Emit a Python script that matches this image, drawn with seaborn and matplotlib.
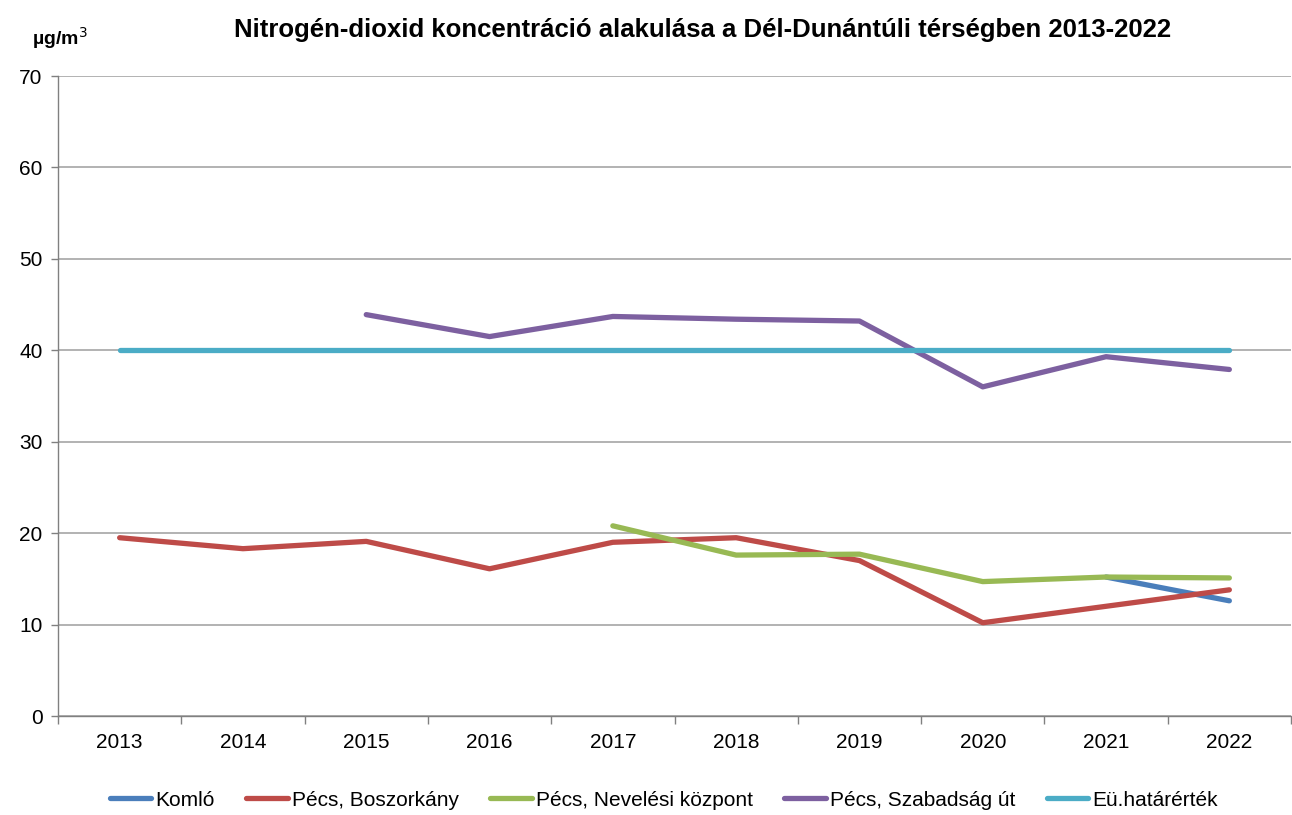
import numpy as np
import pandas as pd
import matplotlib
matplotlib.use('Agg')
import matplotlib.pyplot as plt
import seaborn as sns

# adatok
years = [2013, 2014, 2015, 2016, 2017, 2018, 2019, 2020, 2021, 2022]
komlo = [np.nan, np.nan, np.nan, np.nan, np.nan, np.nan, np.nan, np.nan, 15.2, 12.6]
boszorkany = [19.5, 18.3, 19.1, 16.1, 19.0, 19.5, 17.0, 10.2, 12.0, 13.8]
neveles = [np.nan, np.nan, np.nan, np.nan, 20.8, 17.6, 17.7, 14.7, 15.2, 15.1]
szabadsag = [np.nan, np.nan, 43.9, 41.5, 43.7, 43.4, 43.2, 36.0, 39.3, 37.9]
hatarertek = [40, 40, 40, 40, 40, 40, 40, 40, 40, 40]

series_names = ['Komló', 'Pécs, Boszorkány', 'Pécs, Nevelési központ', 'Pécs, Szabadság út', 'Eü.határérték']
series_values = [komlo, boszorkany, neveles, szabadsag, hatarertek]
colors = ['#4A7EBB', '#BE4B48', '#98B954', '#7D60A0', '#4BACC6']

rows = []
for name, vals in zip(series_names, series_values):
    for i, v in enumerate(vals):
        rows.append({'idx': i, 'ertek': v, 'sorozat': name})
df = pd.DataFrame(rows).dropna()

sns.set_theme(style='white')
plt.rcParams['font.family'] = ['Liberation Sans', 'DejaVu Sans']
plt.rcParams['text.color'] = 'black'

fig = plt.figure(figsize=(12.92, 8.15), dpi=100)
ax = fig.add_axes([58 / 1292, 1 - 716 / 815, (1291 - 58) / 1292, (716 - 76) / 815])

sns.lineplot(data=df, x='idx', y='ertek', hue='sorozat', hue_order=series_names,
             palette=colors, linewidth=3.8, ax=ax, legend=False, zorder=3)

ax.set_xlim(-0.5, 9.5)
ax.set_ylim(0, 70)
ax.set_yticks(range(0, 71, 10))
ax.set_xticks(range(len(years)))
ax.set_xticklabels([str(y) for y in years])
ax.set_xticks(np.arange(-0.5, 9.6, 1), minor=True)
ax.tick_params(axis='x', which='major', length=0, labelsize=15, pad=12, colors='black')
ax.tick_params(axis='x', which='minor', length=6, width=1, color='#808080', direction='out', bottom=True)
ax.tick_params(axis='y', which='major', length=5, width=1, color='#808080', direction='out', left=True,
               labelsize=15, pad=6, colors='black')
ax.yaxis.grid(True, color='#A6A6A6', linewidth=1.2)
ax.set_axisbelow(True)
ax.set_xlabel('')
ax.set_ylabel('')

for side in ['top', 'right']:
    ax.spines[side].set_visible(False)
for side in ['left', 'bottom']:
    ax.spines[side].set_color('#808080')
    ax.spines[side].set_linewidth(1)

fig.text(703 / 1292, 1 - 30 / 815, 'Nitrogén-dioxid koncentráció alakulása a Dél-Dunántúli térségben 2013-2022',
         ha='center', va='center', fontsize=18.5, fontweight='bold', color='black')
fig.text(32 / 1292, 1 - 38 / 815, 'µg/m$^3$', ha='left', va='center', fontsize=14, fontweight='bold', color='black')

handles = [plt.Line2D([0], [0], color=c, linewidth=3.8) for c in colors]
fig.legend(handles, series_names, loc='center', bbox_to_anchor=(664 / 1292, 1 - 800 / 815),
           ncol=5, frameon=False, fontsize=15, handlelength=2.0, handletextpad=0.2, columnspacing=1.5,
           labelcolor='black')

fig.savefig('out.png', dpi=100)
